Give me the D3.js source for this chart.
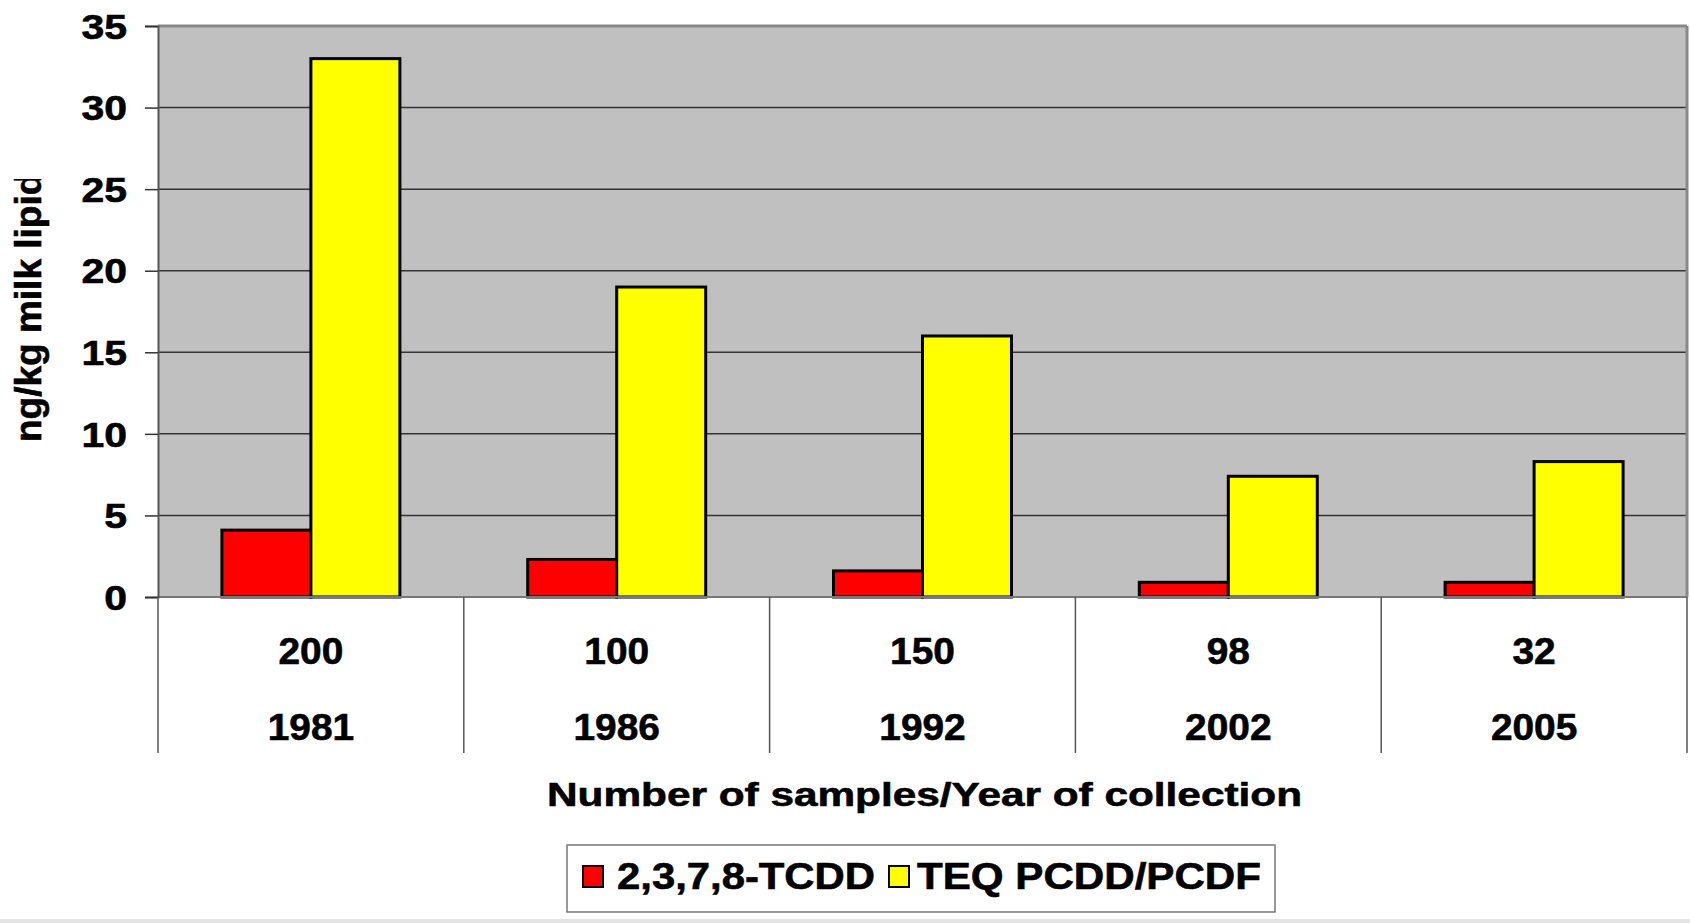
<!DOCTYPE html>
<html><head><meta charset="utf-8">
<script src="https://cdn.jsdelivr.net/npm/d3@7"></script>
<style>
html,body{margin:0;padding:0;background:#fff;}
text{font-family:"Liberation Sans",Arial,sans-serif;font-weight:bold;fill:#000;stroke:#000;stroke-width:0.6px;}
</style></head>
<body>
<svg id="chart" width="1690" height="923"></svg>
<script>
const samples = ["200","100","150","98","32"];
const years = ["1981","1986","1992","2002","2005"];
const tcdd = [4.1, 2.3, 1.6, 0.9, 0.9];
const teq = [33.0, 19.0, 16.0, 7.4, 8.3];
const seriesNames = ["2,3,7,8-TCDD","TEQ PCDD/PCDF"];
const seriesColors = ["#FF0000","#FFFF00"];
const yTicks = [0,5,10,15,20,25,30,35];
const yTitle = "ng/kg milk lipid";
const xTitle = "Number of samples/Year of collection";

const svg = d3.select("#chart");
const L = 158, R = 1687, T = 26, B = 597;

svg.append("rect").attr("x",0).attr("y",919).attr("width",1690).attr("height",4).attr("fill","#e4e4e4");

const y = d3.scaleLinear().domain([0,35]).range([B,T]);
const x0 = d3.scaleBand().domain(years).range([L,R]).paddingInner(0.418).paddingOuter(0.209);
const x1 = d3.scaleBand().domain(seriesNames).range([0,x0.bandwidth()]);
const xStep = d3.scaleBand().domain(years).range([L,R]);

// plot background
svg.append("rect").attr("x",L).attr("y",T).attr("width",R-L).attr("height",B-T).attr("fill","#C0C0C0");

// gridlines
svg.append("g").selectAll("line").data(yTicks.filter(d=>d>0&&d<35)).join("line")
  .attr("x1",L).attr("x2",R).attr("y1",d=>y(d)).attr("y2",d=>y(d))
  .attr("stroke","#333").attr("stroke-width",1.5);

// borders
svg.append("line").attr("x1",L).attr("x2",R).attr("y1",T).attr("y2",T).attr("stroke","#888").attr("stroke-width",3);
svg.append("line").attr("x1",R).attr("x2",R).attr("y1",T).attr("y2",B).attr("stroke","#888").attr("stroke-width",3);

// bars
const rows = years.map((yr,i)=>({yr, vals:[tcdd[i],teq[i]]}));
const grp = svg.append("g").selectAll("g").data(rows).join("g")
  .attr("transform",d=>`translate(${x0(d.yr)},0)`);
grp.selectAll("rect").data(d=>d.vals.map((v,j)=>({v,name:seriesNames[j],c:seriesColors[j]}))).join("rect")
  .attr("x",d=>x1(d.name)).attr("width",x1.bandwidth())
  .attr("y",d=>y(d.v)).attr("height",d=>B-y(d.v))
  .attr("fill",d=>d.c).attr("stroke","#000").attr("stroke-width",3);

// bottom line
svg.append("line").attr("x1",L).attr("x2",R).attr("y1",B).attr("y2",B).attr("stroke","#777").attr("stroke-width",2);

// y axis
const yAxis = d3.axisLeft(y).tickValues(yTicks).tickSize(13).tickPadding(18).tickFormat(d3.format("d"));
const ya = svg.append("g").attr("transform",`translate(${L},0)`).call(yAxis);
ya.select(".domain").attr("stroke","#555").attr("stroke-width",2);
ya.selectAll(".tick line").attr("stroke","#333").attr("stroke-width",1.5);
const sx = 1.17;
ya.selectAll(".tick text")
  .attr("font-size",35).attr("font-family","'Liberation Sans',Arial,sans-serif").attr("font-weight","bold")
  .attr("fill","#000").attr("dy","0.35em")
  .attr("x",-31/sx).attr("transform",`scale(${sx},1)`);

// category separators
svg.append("g").selectAll("line").data(years.concat(["end"])).join("line")
  .attr("x1",(d,i)=> i<years.length? xStep(d) : R).attr("x2",(d,i)=> i<years.length? xStep(d) : R)
  .attr("y1",B).attr("y2",753).attr("stroke","#555").attr("stroke-width",1.5);

// category labels
function stretchedText(parent, cx, cyBase, str, size, scaleX, anchor){
  return parent.append("g").attr("transform",`translate(${cx},${cyBase}) scale(${scaleX},1)`)
    .append("text").attr("text-anchor",anchor||"middle").attr("font-size",size).text(str);
}
const cats = svg.append("g");
years.forEach((yr,i)=>{
  const cx = xStep(yr)+xStep.bandwidth()/2;
  stretchedText(cats, cx, 664, samples[i], 37, 1.05);
  stretchedText(cats, cx, 740, yr, 37, 1.05);
});

// x title
svg.append("text").attr("x",547).attr("y",806).attr("font-size",34)
  .attr("textLength",755).attr("lengthAdjust","spacingAndGlyphs").text(xTitle);

// y title (clipped at top like the original)
svg.append("clipPath").attr("id","ytclip").append("rect").attr("x",0).attr("y",179).attr("width",80).attr("height",400);
svg.append("g").attr("clip-path","url(#ytclip)")
  .append("text").attr("transform","translate(41,442) rotate(-90)")
  .attr("font-size",37).attr("text-anchor","start").text(yTitle);

// legend
const lg = svg.append("g");
lg.append("rect").attr("x",567).attr("y",845).attr("width",708).attr("height",67)
  .attr("fill","#fff").attr("stroke","#777").attr("stroke-width",1.5);
const legendItems = [
  {name:seriesNames[0], c:seriesColors[0], sw:583, tx:617, tw:258},
  {name:seriesNames[1], c:seriesColors[1], sw:889, tx:917, tw:344}
];
legendItems.forEach(it=>{
  lg.append("rect").attr("x",it.sw).attr("y",866).attr("width",20).attr("height",21)
    .attr("fill",it.c).attr("stroke","#000").attr("stroke-width",2);
  lg.append("text").attr("x",it.tx).attr("y",889).attr("font-size",36)
    .attr("textLength",it.tw).attr("lengthAdjust","spacingAndGlyphs").text(it.name);
});
</script>
</body></html>
